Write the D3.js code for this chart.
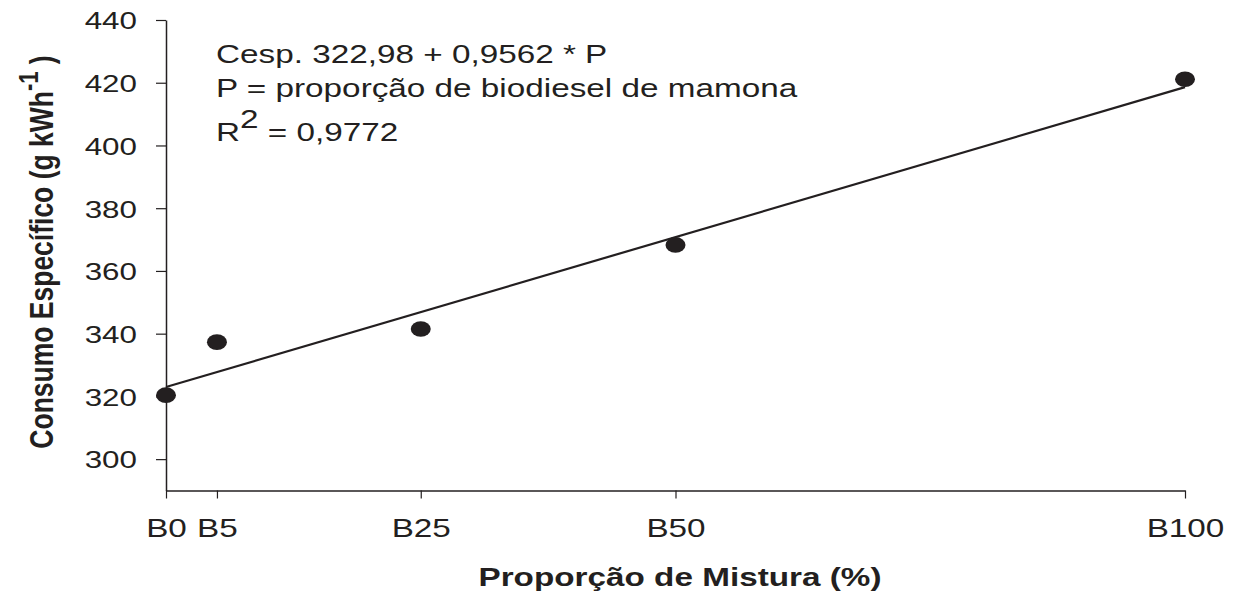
<!DOCTYPE html>
<html>
<head>
<meta charset="utf-8">
<script src="https://cdn.jsdelivr.net/npm/d3@7"></script>
<style>
  html, body { margin: 0; padding: 0; background: #fff; }
  svg { display: block; }
  text { font-family: "Liberation Sans", Arial, sans-serif; fill: #231f20; }
</style>
</head>
<body>
<svg id="chart" width="1234" height="596"></svg>
<script>
// ---- data ----
const categories = ["B0", "B5", "B25", "B50", "B100"];
const proportion = [0, 5, 25, 50, 100];
const consumo = [320.4, 337.3, 341.5, 368.3, 421.1];
const yTicks = [300, 320, 340, 360, 380, 400, 420, 440];
const intercept = 322.98;
const slope = 0.9562;
const annotation = ["Cesp. 322,98 + 0,9562 * P", "P = proporção de biodiesel de mamona", "0,9772"];

const ink = "#231f20";
const SX = 1.28; // horizontal stretch of glyphs seen in the reference
const svg = d3.select("#chart");

const x = d3.scaleLinear().domain([0, 100]).range([166, 1185]);
const y = d3.scaleLinear().domain([290, 440]).range([490.5, 20]);

// y axis
const yAxis = d3.axisLeft(y).tickValues(yTicks).tickSize(10).tickSizeOuter(0).tickFormat(d3.format("d"));
const gy = svg.append("g").attr("transform", `translate(${x(0)},0)`).call(yAxis);
gy.selectAll("path.domain").attr("stroke", ink).attr("stroke-width", 1.5);
gy.selectAll(".tick line").attr("stroke", ink).attr("stroke-width", 1.2);
gy.selectAll(".tick text")
  .attr("font-size", 24.5).attr("fill", ink)
  .attr("font-family", '"Liberation Sans", Arial, sans-serif')
  .attr("x", 0).attr("dy", "0.36em")
  .attr("transform", `translate(-29,0) scale(${SX},1)`);

// x axis
const xAxis = d3.axisBottom(x).tickValues(proportion).tickSize(8).tickSizeOuter(0)
  .tickFormat((d, i) => categories[i]);
const gx = svg.append("g").attr("transform", `translate(0,${y(290)})`).call(xAxis);
gx.selectAll("path.domain").attr("stroke", ink).attr("stroke-width", 1.5);
gx.selectAll(".tick line").attr("stroke", ink).attr("stroke-width", 1.2);
gx.selectAll(".tick text")
  .attr("font-size", 26).attr("fill", ink)
  .attr("font-family", '"Liberation Sans", Arial, sans-serif')
  .attr("y", 0).attr("dy", 0)
  .attr("transform", `translate(0,46) scale(${SX},1)`);

// regression line
const lineData = [0, 100].map(p => ({ p, v: intercept + slope * p }));
svg.append("path")
  .datum(lineData)
  .attr("d", d3.line().x(d => x(d.p)).y(d => y(d.v)))
  .attr("fill", "none").attr("stroke", ink).attr("stroke-width", 2.2);

// points
svg.append("g").selectAll("ellipse")
  .data(proportion.map((p, i) => ({ p, v: consumo[i] })))
  .join("ellipse")
  .attr("cx", d => x(d.p)).attr("cy", d => y(d.v))
  .attr("rx", 10).attr("ry", 7.8)
  .attr("fill", ink);

// annotation
const ann = svg.append("g").attr("font-size", 26);
ann.append("text").attr("transform", `translate(216,63) scale(${SX},1)`).text(annotation[0]);
ann.append("text").attr("transform", `translate(216,97) scale(${SX},1)`).text(annotation[1]);
const r2 = ann.append("text").attr("transform", `translate(216,141) scale(${SX},1)`);
r2.append("tspan").text("R");
r2.append("tspan").attr("dy", -13).text("2");
r2.append("tspan").attr("dy", 13).text(" = " + annotation[2]);

// x title
svg.append("text")
  .attr("transform", `translate(680,586) scale(${SX},1)`)
  .attr("text-anchor", "middle")
  .attr("font-size", 26).attr("font-weight", "bold")
  .text("Proporção de Mistura (%)");

// y title
const yt = svg.append("text")
  .attr("transform", `translate(53,252) scale(${SX},1) rotate(-90)`)
  .attr("text-anchor", "middle")
  .attr("font-size", 26.5).attr("font-weight", "bold");
yt.append("tspan").text("Consumo Específico (g kWh");
yt.append("tspan").attr("dy", -12).attr("font-size", 22).text("-1");
yt.append("tspan").attr("dy", 12).text(" )");
</script>
</body>
</html>
